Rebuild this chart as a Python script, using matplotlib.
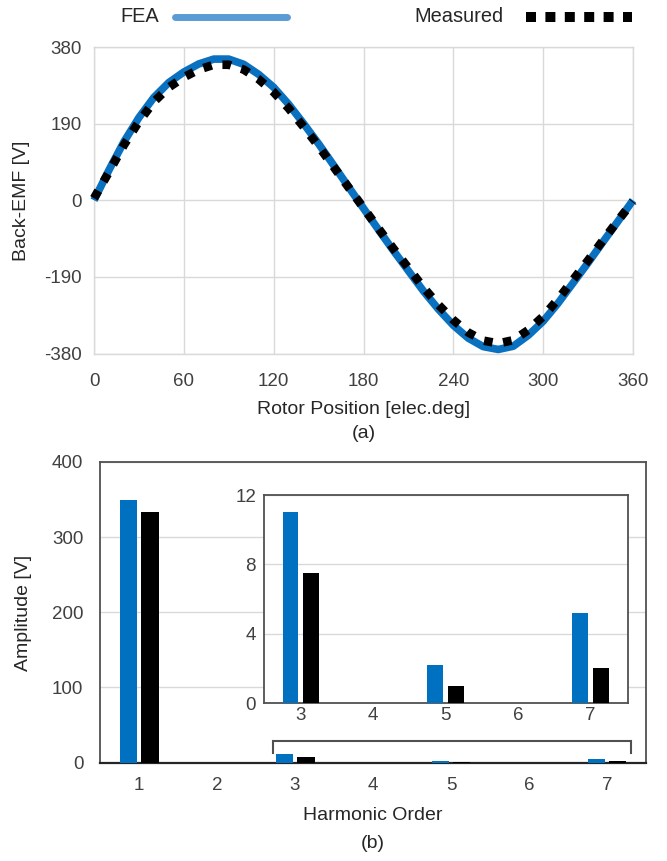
import matplotlib
matplotlib.use("Agg")
import matplotlib.pyplot as plt
from matplotlib.lines import Line2D

plt.rcParams['font.family'] = ['Liberation Sans', 'DejaVu Sans']

# (a) back-EMF over one electrical period
rotor_deg = list(range(0, 361, 10))
emf_fea = [0, 75, 145, 205, 255, 292, 318, 338, 350, 350,
           337, 312, 280, 238, 190, 140, 87, 33, -20, -73,
           -125, -175, -225, -270, -310, -342, -363, -370, -362, -335,
           -300, -255, -205, -155, -103, -52, 0]
emf_measured = [5, 70, 137, 195, 244, 280, 305, 324, 336, 336,
                324, 300, 268, 228, 182, 134, 83, 32, -19, -70,
                -120, -168, -216, -259, -297, -328, -348, -355, -347, -322,
                -288, -245, -197, -149, -99, -50, -3]
deg_ticks = [0, 60, 120, 180, 240, 300, 360]
emf_ticks = [-380, -190, 0, 190, 380]

# (b) harmonic amplitudes
harmonic_order = [1, 2, 3, 4, 5, 6, 7]
amp_fea = [350, 0, 11.0, 0, 2.2, 0, 5.2]
amp_measured = [334, 0, 7.5, 0, 1.0, 0, 2.0]
amp_ticks = [0, 100, 200, 300, 400]
inset_orders = [3, 4, 5, 6, 7]
inset_ticks = [0, 4, 8, 12]

BLUE_LINE = '#0a70c0'
BLUE_LEG = '#5b9bd5'
BLUE_BAR = '#0070c0'
GRID = '#d9d9d9'
TICK_C = '#404040'
TEXT_C = '#262626'
SPINE_C = '#505050'

W, H = 667, 861
fig = plt.figure(figsize=(W / 100, H / 100), dpi=100)


def px_axes(left, top, right, bottom):
    return fig.add_axes([left / W, 1 - bottom / H, (right - left) / W, (bottom - top) / H])


def fig_text(x, y, s, **kw):
    fig.text(x / W, 1 - y / H, s, **kw)


# ---------- (a) waveform ----------
ax1 = px_axes(94, 47, 633, 353.5)
ax1.plot(rotor_deg, emf_fea, color=BLUE_LINE, lw=5.5, solid_capstyle='butt',
         solid_joinstyle='round', zorder=3, clip_on=False)
ax1.plot(rotor_deg, emf_measured, color='black', lw=6.2, linestyle=(0, (1, 1.25)),
         dash_capstyle='butt', zorder=4, clip_on=False)
ax1.set_xlim(0, 360)
ax1.set_ylim(-380, 380)
ax1.set_xticks(deg_ticks)
ax1.set_yticks(emf_ticks)
ax1.set_yticklabels([str(t) for t in emf_ticks])
ax1.grid(True, color=GRID, lw=1)
ax1.set_axisbelow(True)
for s in ax1.spines.values():
    s.set_color(GRID)
    s.set_linewidth(1)
ax1.tick_params(axis='both', length=0, labelsize=13.5, colors=TICK_C)
ax1.tick_params(axis='x', pad=14)
ax1.tick_params(axis='y', pad=9)

fig_text(22, 201, 'Back-EMF [V]', rotation=90, ha='center', va='center',
         fontsize=14, color=TEXT_C)
fig_text(363.5, 410, 'Rotor Position [elec.deg]', ha='center', va='center',
         fontsize=14, color=TEXT_C)
fig_text(363.5, 433, '(a)', ha='center', va='center', fontsize=14, color=TEXT_C)

# legend row
fig_text(159, 17, 'FEA', ha='right', va='center', fontsize=14.4, color=TEXT_C)
fig.add_artist(Line2D([175 / W, 287 / W], [1 - 17 / H, 1 - 17 / H], color=BLUE_LEG,
                      lw=5, solid_capstyle='round'))
fig_text(504, 17, 'Measured', ha='right', va='center', fontsize=14.4, color=TEXT_C)
fig.add_artist(Line2D([526 / W, 632 / W], [1 - 17 / H, 1 - 17 / H], color='black',
                      lw=7.2, linestyle=(0, (1, 0.94)), dash_capstyle='butt'))

# ---------- (b) harmonic spectrum ----------
BAR_W = 0.22
OFF = 0.14
ax2 = px_axes(100, 462, 646, 762.5)
ax2.bar([h - OFF for h in harmonic_order], amp_fea, width=BAR_W, color=BLUE_BAR, zorder=3)
ax2.bar([h + OFF for h in harmonic_order], amp_measured, width=BAR_W, color='black', zorder=3)
ax2.set_xlim(0.5, 7.5)
ax2.set_ylim(0, 400)
ax2.set_xticks(harmonic_order)
ax2.set_yticks(amp_ticks)
ax2.yaxis.grid(True, color=GRID, lw=1)
ax2.set_axisbelow(True)
for s in ax2.spines.values():
    s.set_color(SPINE_C)
    s.set_linewidth(1.3)
ax2.spines['bottom'].set_color(TEXT_C)
ax2.spines['bottom'].set_linewidth(1.6)
ax2.tick_params(axis='both', length=0, labelsize=13.5, colors=TICK_C)
ax2.tick_params(axis='x', pad=10.5)
ax2.tick_params(axis='y', pad=12)

# bracket marking the zoomed range
bx0, bx1, by, by_end = 2.72, 7.31, 28.8, 13.3
ax2.plot([bx0, bx0, bx1, bx1], [by_end, by, by, by_end], color=SPINE_C, lw=1.5,
         zorder=4, solid_joinstyle='miter')

fig_text(24, 613, 'Amplitude [V]', rotation=90, ha='center', va='center',
         fontsize=14, color=TEXT_C)
fig_text(373, 815, 'Harmonic Order', ha='center', va='center', fontsize=14, color=TEXT_C)
fig_text(373, 843, '(b)', ha='center', va='center', fontsize=14, color=TEXT_C)

# inset with the higher harmonics
axin = ax2.inset_axes([2.608, 79, 7.27 - 2.608, 356 - 79], transform=ax2.transData)
axin.set_facecolor('white')
sel = [harmonic_order.index(h) for h in inset_orders]
axin.bar([h - OFF for h in inset_orders], [amp_fea[i] for i in sel], width=BAR_W,
         color=BLUE_BAR, zorder=3)
axin.bar([h + OFF for h in inset_orders], [amp_measured[i] for i in sel], width=BAR_W,
         color='black', zorder=3)
axin.set_xlim(2.5, 7.52)
axin.set_ylim(0, 12)
axin.set_xticks(inset_orders)
axin.set_yticks(inset_ticks)
axin.yaxis.grid(True, color=GRID, lw=1)
axin.set_axisbelow(True)
for s in axin.spines.values():
    s.set_color(SPINE_C)
    s.set_linewidth(1.3)
axin.tick_params(axis='both', length=0, labelsize=13.5, colors=TICK_C)
axin.tick_params(axis='x', pad=3)
axin.tick_params(axis='y', pad=6)

fig.savefig('out.png', dpi=100)
